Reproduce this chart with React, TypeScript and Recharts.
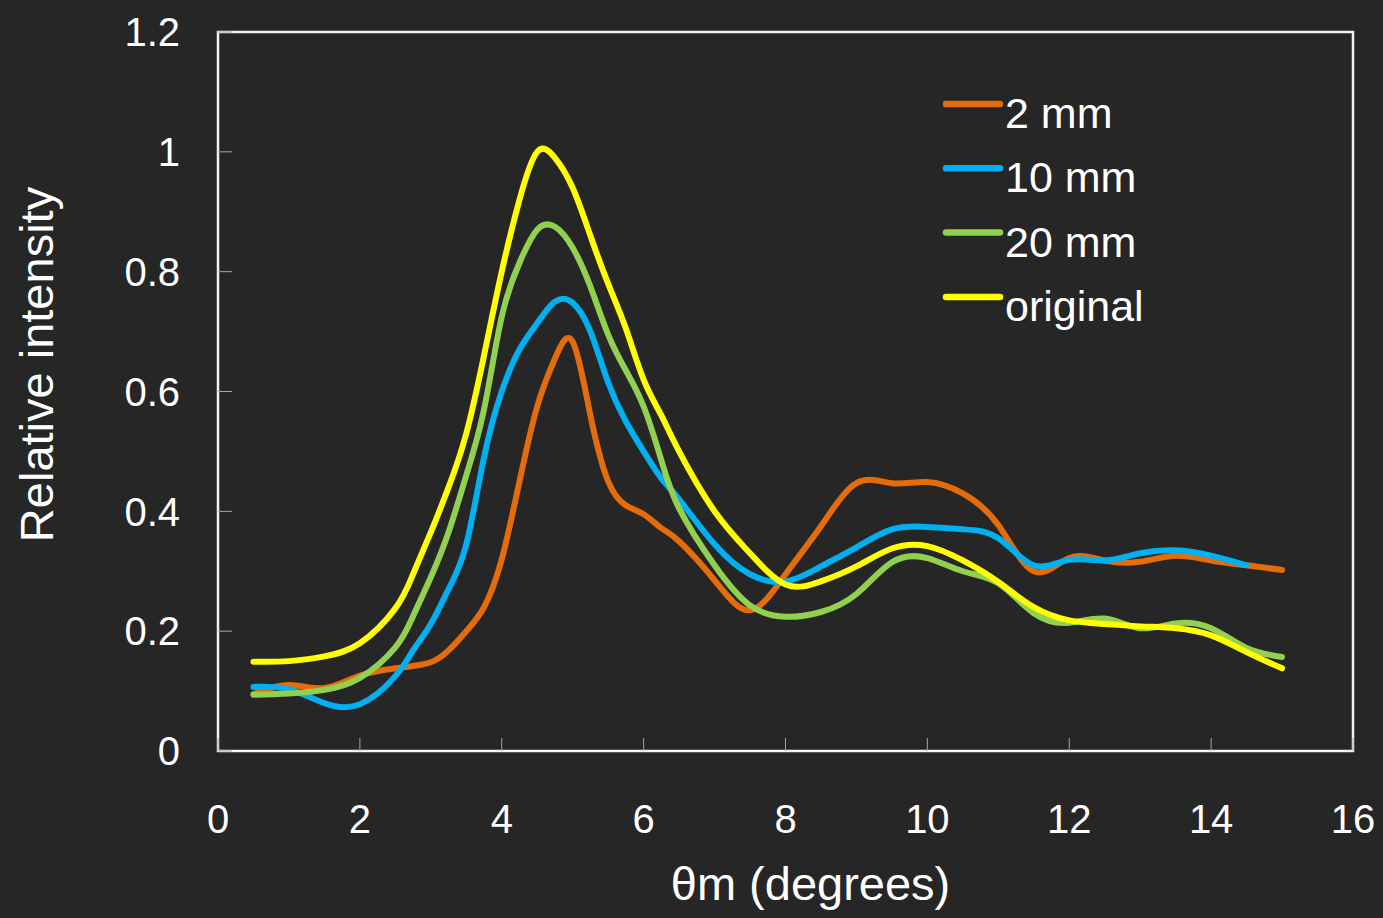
import { Legend, Line, LineChart, ReferenceArea, XAxis, YAxis } from "recharts";

const thetaM = [
  0.5, 1, 1.5, 2, 2.5, 2.75, 3, 3.25, 3.5, 3.75, 4, 4.25, 4.5, 4.75, 5, 5.25, 5.5, 5.75, 6, 6.25, 6.5,
  7, 7.5, 8, 8.5, 9, 9.5, 10, 10.5, 11, 11.5, 12, 12.5, 13, 13.5, 14, 14.5, 15,
];

const mm2 = [
  0.095, 0.11, 0.105, 0.126, 0.138, 0.142, 0.148, 0.168, 0.2, 0.24, 0.32, 0.45, 0.575, 0.655, 0.683,
  0.56, 0.45, 0.41, 0.395, 0.372, 0.35, 0.285, 0.235, 0.295, 0.375, 0.447, 0.447, 0.449, 0.43, 0.377,
  0.3, 0.322, 0.318, 0.316, 0.326, 0.318, 0.31, 0.302,
];

const mm10 = [
  0.107, 0.103, 0.08, 0.078, 0.125, 0.168, 0.212, 0.27, 0.345, 0.49, 0.6, 0.67, 0.714, 0.75, 0.748,
  0.7, 0.615, 0.55, 0.5, 0.455, 0.42, 0.345, 0.295, 0.283, 0.308, 0.34, 0.37, 0.374, 0.37, 0.355,
  0.31, 0.319, 0.318, 0.33, 0.335, 0.326, 0.31, null,
];

const mm20 = [
  0.094, 0.096, 0.102, 0.122, 0.173, 0.225, 0.29, 0.365, 0.46, 0.57, 0.725, 0.815, 0.87, 0.875, 0.84,
  0.775, 0.695, 0.635, 0.575, 0.485, 0.405, 0.31, 0.243, 0.224, 0.232, 0.262, 0.315, 0.322, 0.3, 0.28,
  0.23, 0.214, 0.221, 0.205, 0.213, 0.205, 0.172, 0.157,
];

const original = [
  0.149, 0.15, 0.158, 0.18, 0.238, 0.295, 0.365, 0.44, 0.53, 0.66, 0.8, 0.92, 1.0, 0.99, 0.94, 0.86,
  0.78, 0.705, 0.62, 0.56, 0.5, 0.4, 0.33, 0.278, 0.283, 0.308, 0.338, 0.342, 0.318, 0.282, 0.24,
  0.218, 0.212, 0.208, 0.205, 0.193, 0.165, 0.138,
];

const xTicks = [0, 2, 4, 6, 8, 10, 12, 14, 16];
const yTicks = [0, 0.2, 0.4, 0.6, 0.8, 1, 1.2];

const series = [
  { key: "mm2", name: "2 mm", color: "#E46C0A" },
  { key: "mm10", name: "10 mm", color: "#00B0F0" },
  { key: "mm20", name: "20 mm", color: "#92D050" },
  { key: "original", name: "original", color: "#FFFF00" },
];

const rows = thetaM.map((x, i) => ({
  x,
  mm2: mm2[i],
  mm10: mm10[i],
  mm20: mm20[i],
  original: original[i],
}));

const FONT = "'Liberation Sans', Arial, sans-serif";
const BG = "#262626";

function LegendBox() {
  return (
    <svg width={240} height={270}>
      {series.map((s, i) => {
        const y = 34 + i * 64.3;
        return (
          <g key={s.key}>
            <line x1={8} x2={62} y1={y} y2={y} stroke={s.color} strokeWidth={6.5} strokeLinecap="round" />
            <text x={67} y={y + 24} fill="#ffffff" fontSize={43} fontFamily={FONT}>
              {s.name}
            </text>
          </g>
        );
      })}
    </svg>
  );
}

export default function App() {
  return (
    <div style={{ position: "absolute", left: 0, top: 0, width: 1383, height: 918, background: BG }}>
      <LineChart width={1383} height={918} data={rows} margin={{ top: 32, right: 30, bottom: 107, left: 158 }}>
        <ReferenceArea x1={0} x2={16} y1={0} y2={1.2} fill="none" stroke="#f2f2f2" strokeWidth={2.5} />
        <XAxis
          dataKey="x"
          type="number"
          domain={[0, 16]}
          ticks={xTicks}
          height={60}
          axisLine={false}
          tickSize={-13}
          tickMargin={67}
          tickLine={{ stroke: "#a6a6a6", strokeWidth: 1 }}
          tick={{ fill: "#ffffff", fontSize: 40, fontFamily: FONT }}
          label={{
            content: ({ viewBox }: any) => (
              <text
                x={viewBox.x + viewBox.width / 2 + 25}
                y={900}
                textAnchor="middle"
                fill="#ffffff"
                fontSize={47}
                fontFamily={FONT}
              >
                θm (degrees)
              </text>
            ),
          }}
        />
        <YAxis
          type="number"
          domain={[0, 1.2]}
          ticks={yTicks}
          width={60}
          axisLine={false}
          tickSize={-14}
          tickMargin={52}
          tickLine={{ stroke: "#a6a6a6", strokeWidth: 1 }}
          tick={{ fill: "#ffffff", fontSize: 40, fontFamily: FONT }}
          tickFormatter={(v: number) => String(v)}
          label={{
            content: ({ viewBox }: any) => {
              const cy = viewBox.y + viewBox.height / 2 - 27;
              return (
                <text
                  x={53}
                  y={cy}
                  transform={`rotate(-90, 53, ${cy})`}
                  textAnchor="middle"
                  fill="#ffffff"
                  fontSize={47}
                  fontFamily={FONT}
                >
                  Relative intensity
                </text>
              );
            },
          }}
        />
        <Legend
          verticalAlign="middle"
          align="center"
          layout="horizontal"
          wrapperStyle={{ left: 938, top: 70, width: 240 }}
          content={<LegendBox />}
        />
        {series.map((s) => (
          <Line
            key={s.key}
            dataKey={s.key}
            name={s.name}
            type="natural"
            stroke={s.color}
            strokeWidth={6}
            strokeLinecap="round"
            dot={false}
            isAnimationActive={false}
          />
        ))}
      </LineChart>
    </div>
  );
}
